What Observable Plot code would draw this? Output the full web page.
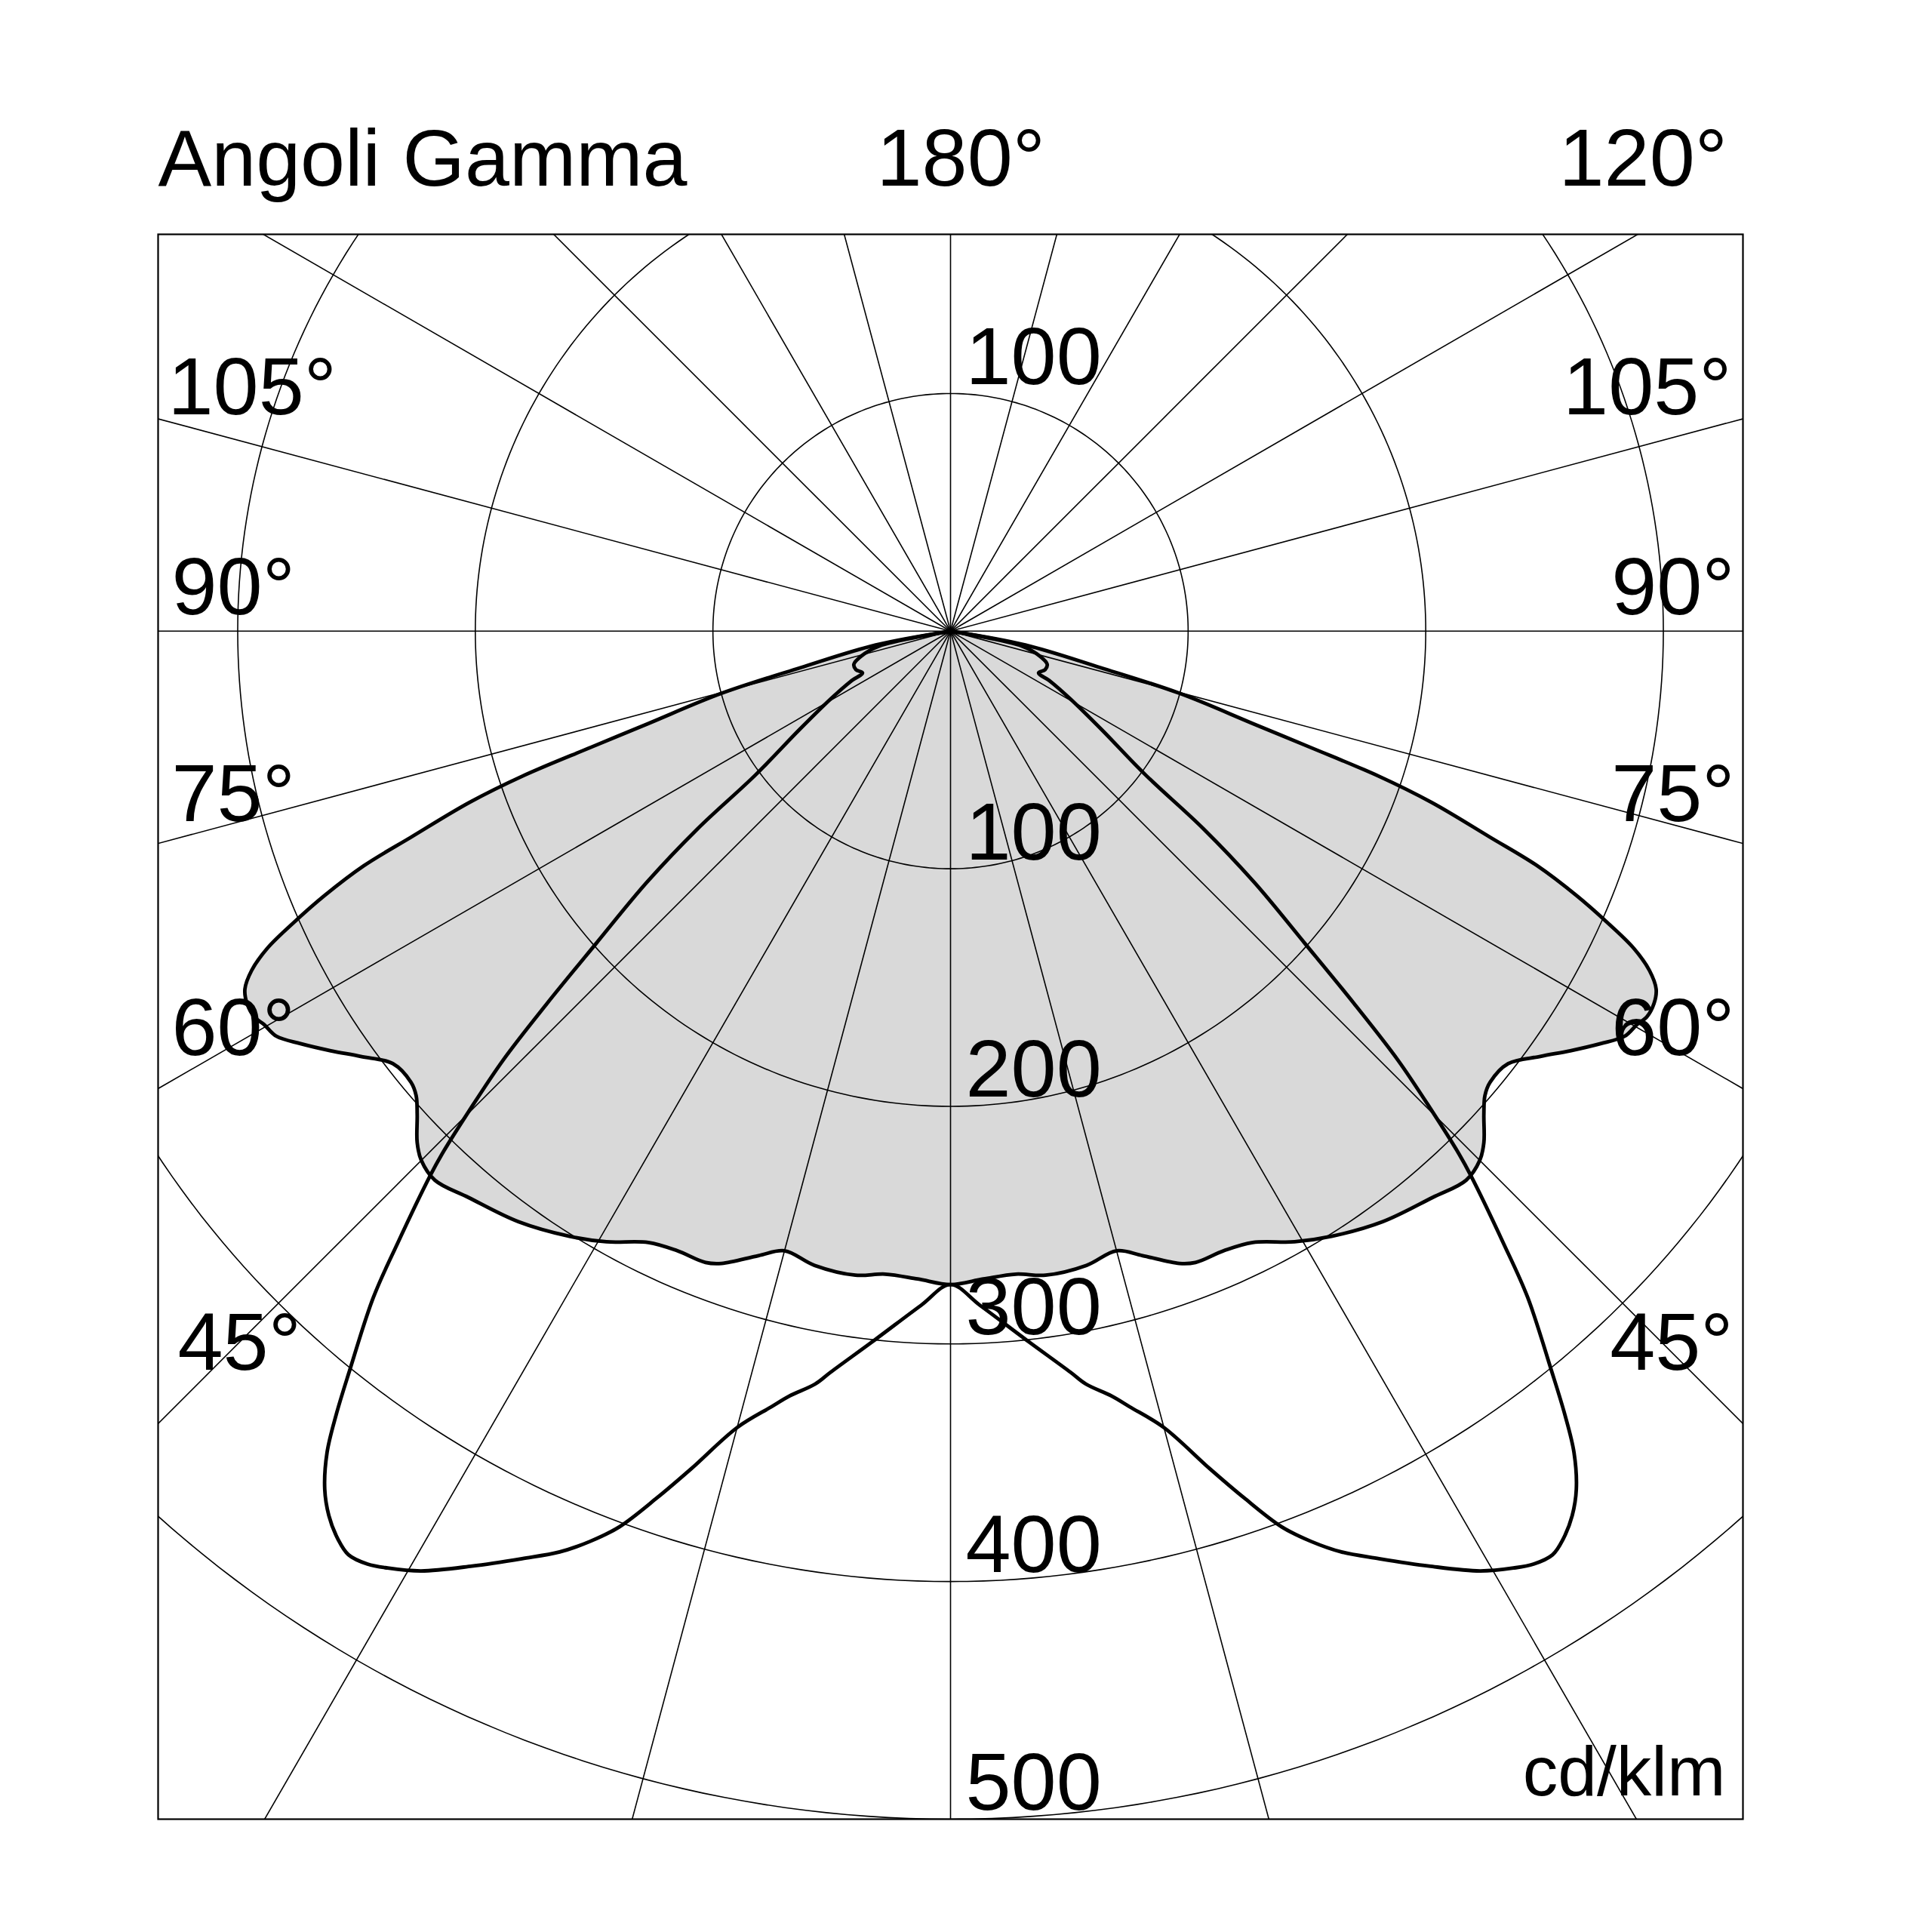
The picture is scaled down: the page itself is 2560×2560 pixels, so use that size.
<!DOCTYPE html>
<html>
<head>
<meta charset="utf-8">
<script src="https://cdn.jsdelivr.net/npm/d3@7"></script>
<script src="https://cdn.jsdelivr.net/npm/@observablehq/plot@0.6"></script>
<style>
  html, body { margin: 0; padding: 0; background: #ffffff; }
  #chart { position: absolute; left: 0; top: 0; }
</style>
</head>
<body>
<div id="chart"></div>
<script>
// ---------- DATA (cd/klm vs gamma angle, symmetric planes) ----------
// Filled (grey) curve: gamma (deg) and intensity (cd/klm)
const gammaGrey = [90, 79.5, 76.3, 74.8, 73.0, 72.1, 71.3, 70.4, 69.1, 68.2, 67.1, 66.1, 65.1, 64.1, 63.1, 62.1, 61.0, 60.2, 59.0, 57.6, 55.9, 54.2, 52.2, 50.1, 49.0, 47.8, 46.2, 45.0, 43.2, 40.4, 36.2, 32.2, 29.4, 26.3, 23.8, 21.2, 19.9, 17.1, 15.0, 12.1, 8.4, 5.8, 2.9, 0];
const valueGrey = [0, 32, 65, 100, 133, 159, 190, 215, 243, 266, 286, 302, 317, 327, 333, 335, 335, 333, 331, 324, 315, 306, 297, 296, 298, 303, 311, 315, 317, 313, 308, 301, 295, 287, 285, 285, 283, 275, 270, 273, 274, 272, 273, 275];

// Open (batwing) curve
const gammaWing = [90, 78.1, 74.4, 71.1, 67.8, 64.6, 63.3, 60.5, 56.9, 53.6, 52.0, 50.4, 48.6, 47.3, 46.2, 45.1, 44.2, 43.7, 42.1, 40.9, 39.1, 38.1, 37.2, 36.1, 35.1, 34.0, 33.1, 32.0, 31.0, 29.4, 27.1, 24.8, 23.0, 21.6, 20.3, 18.7, 17.2, 15.0, 13.0, 11.9, 10.2, 9.2, 6.1, 2.5, 0];
const valueWing = [0, 31, 39, 43, 43, 41, 47, 58, 76, 102, 135, 166, 199, 231, 261, 286, 307, 317, 347, 371, 401, 419, 434, 447, 455, 461, 464, 463, 460, 454, 442, 430, 421, 412, 402, 385, 369, 347, 335, 329, 322, 316, 300, 284, 275];

// Grid / tick definitions
const radialTicks = [100, 200, 300, 400, 500];
const gridAngles = [0, 15, 30, 45, 60, 75, 90, 105, 120, 135, 150, 165, 180, 195, 210, 225, 240, 255, 270, 285, 300, 315, 330, 345];
const sideLabels = ["105°", "90°", "75°", "60°", "45°"];
const topLabels = ["180°", "120°"];
const titleText = "Angoli Gamma";
const unitText = "cd/klm";

// ---------- LAYOUT ----------
const W = 2560, H = 2560;
const mL = 209, mR = 251, mT = 310, mB = 150;
const xDom = [-333.5, 333.5], yDom = [-500, 167];
const k = (W - mL - mR) / (xDom[1] - xDom[0]);           // px per unit
const cx = mL - xDom[0] * k, cy = mT + yDom[1] * k;      // centre in px
const fromPx = (px, py) => ({x: (px - cx) / k, y: (cy - py) / k});
const rad = d => d * Math.PI / 180;

// polar -> cartesian (gamma measured from nadir)
function half(gammas, values, side) {
  return gammas.map((g, i) => ({x: side * values[i] * Math.sin(rad(g)), y: -values[i] * Math.cos(rad(g))}));
}
function fullCurve(gammas, values) {
  const left = half(gammas, values, -1);
  const right = half(gammas, values, 1).reverse().slice(1);
  return left.concat(right);
}
const grey = fullCurve(gammaGrey, valueGrey);
const wing = fullCurve(gammaWing, valueWing);

const circles = radialTicks.flatMap(r => d3.range(0, 361, 1).map(a => ({r, x: r * Math.sin(rad(a)), y: r * Math.cos(rad(a))})));

const font = "'Liberation Sans', Arial, Helvetica, sans-serif";
const big = 108;

// annotation placement (pixels)
const sideLeftPos = [[222, 548], [227, 813], [227, 1087], [227, 1397], [235, 1814]];
const sideRightPos = [[2294, 548], [2298, 813], [2298, 1087], [2298, 1397], [2296, 1814]];
const topPos = [[1161, 245], [2065, 245]];

const leftLab = sideLabels.map((t, i) => ({t, ...fromPx(...sideLeftPos[i])}));
const rightLab = sideLabels.map((t, i) => ({t, ...fromPx(...sideRightPos[i])}));
const topLab = topLabels.map((t, i) => ({t, ...fromPx(...topPos[i])}));
const titleLab = [{t: titleText, ...fromPx(209, 245)}];
const unitLab = [{t: unitText, ...fromPx(2286, 2378)}];
const valueLab = [{t: String(radialTicks[0]), x: 20 / k, y: radialTicks[0] + 12.5 / k}]
  .concat(radialTicks.map(r => ({t: String(r), x: 20 / k, y: -r + 12.5 / k})));

const txt = (data, opts) => Plot.text(data, {x: "x", y: "y", text: "t", lineAnchor: "bottom", fill: "black", fontFamily: font, fontSize: big, ...opts});

const plot = Plot.plot({
  width: W, height: H,
  marginLeft: mL, marginRight: mR, marginTop: mT, marginBottom: mB,
  x: {domain: xDom, axis: null},
  y: {domain: yDom, axis: null},
  style: {background: "white", fontFamily: font},
  marks: [
    Plot.line(grey, {x: "x", y: "y", fill: "#d9d9d9", stroke: "none", curve: "catmull-rom"}),
    Plot.line(circles, {x: "x", y: "y", z: "r", stroke: "black", strokeWidth: 1.6, clip: true}),
    Plot.link(gridAngles, {x1: 0, y1: 0, x2: a => 1200 * Math.sin(rad(a)), y2: a => -1200 * Math.cos(rad(a)), stroke: "black", strokeWidth: 1.6, clip: true}),
    Plot.line(grey, {x: "x", y: "y", stroke: "black", strokeWidth: 4.8, strokeLinejoin: "round", curve: "catmull-rom"}),
    Plot.line(wing, {x: "x", y: "y", stroke: "black", strokeWidth: 4.8, strokeLinejoin: "round", curve: "catmull-rom"}),
    Plot.frame({stroke: "black", strokeWidth: 2.2}),
    txt(titleLab, {textAnchor: "start", fontSize: 106}),
    txt(topLab, {textAnchor: "start"}),
    txt(leftLab, {textAnchor: "start"}),
    txt(rightLab, {textAnchor: "end"}),
    txt(valueLab, {textAnchor: "start"}),
    txt(unitLab, {textAnchor: "end", fontSize: 93})
  ]
});
document.getElementById("chart").appendChild(plot);
</script>
</body>
</html>
